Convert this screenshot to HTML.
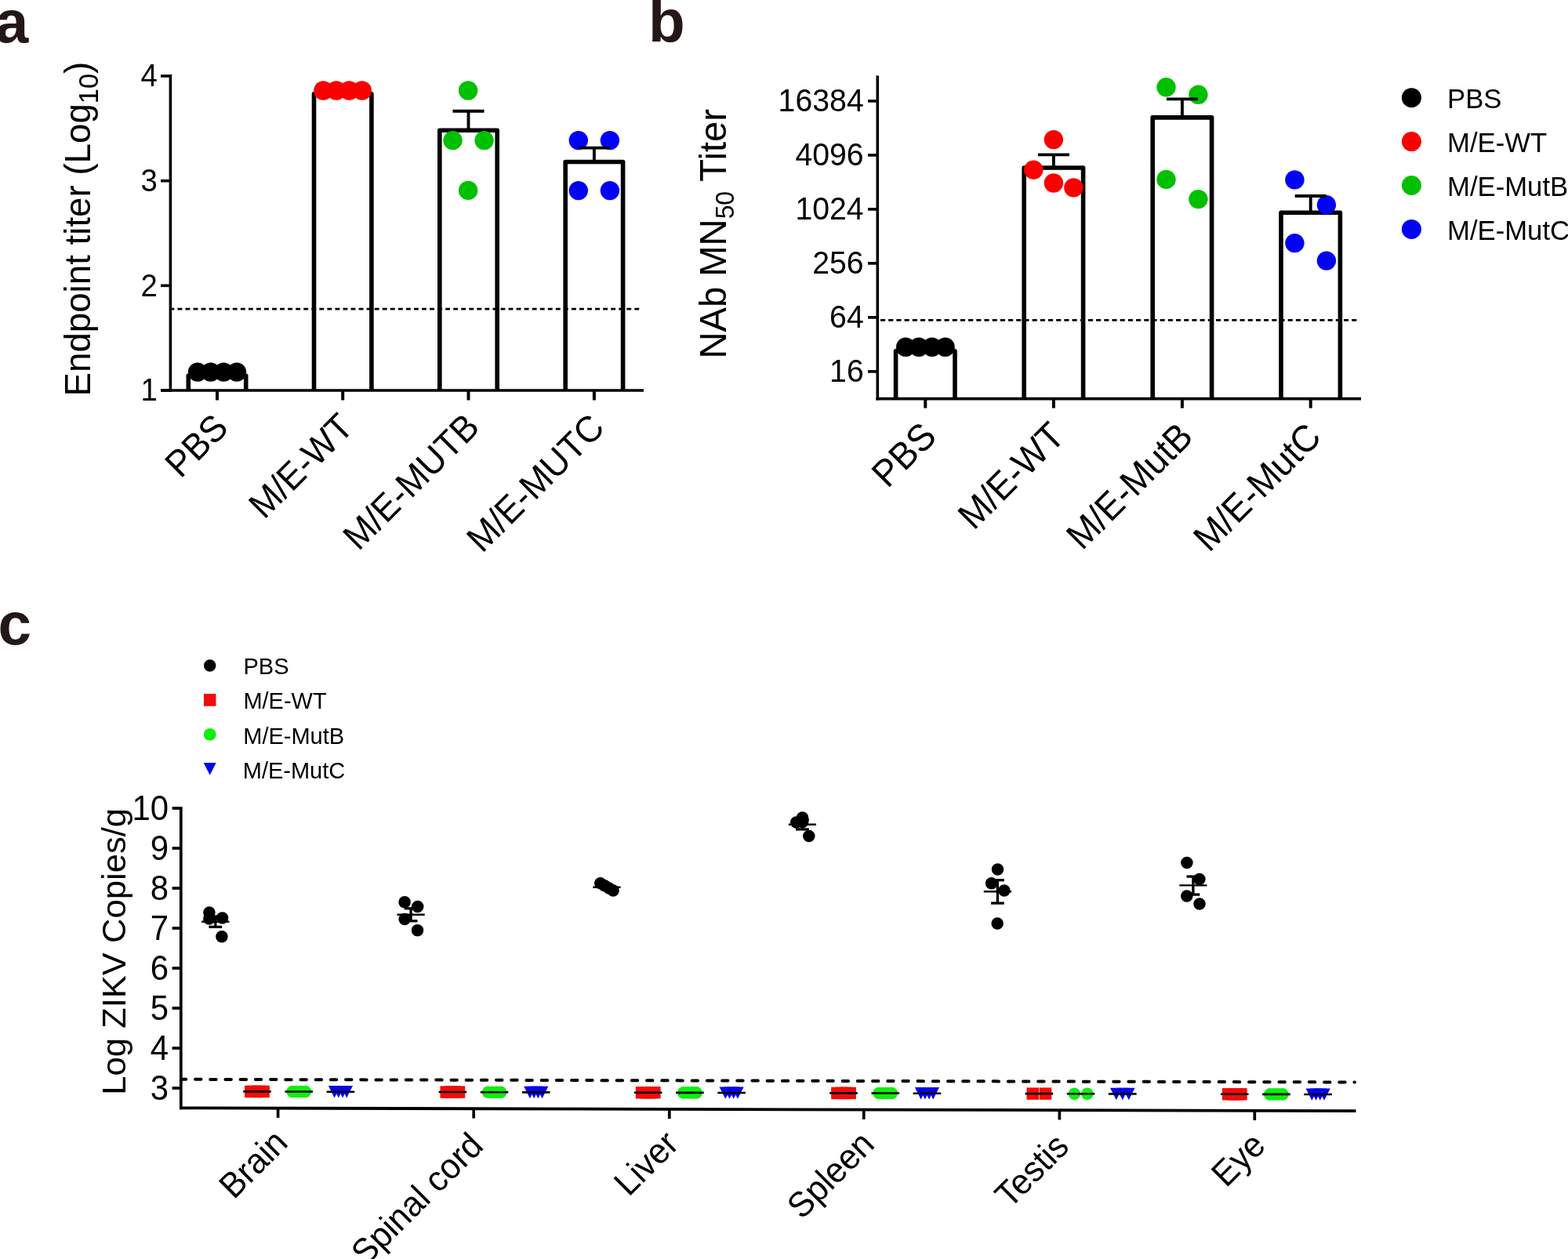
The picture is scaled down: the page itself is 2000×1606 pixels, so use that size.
<!DOCTYPE html>
<html><head><meta charset="utf-8"><title>Figure</title>
<style>
html,body{margin:0;padding:0;background:#fff;}
body{width:2000px;height:1606px;overflow:hidden;}
svg{display:block;}
text{font-family:"Liberation Sans", Arial, Helvetica, sans-serif;}
</style></head>
<body>
<svg width="2000" height="1606" viewBox="0 0 2000 1606">
<rect x="0" y="0" width="2000" height="1606" fill="#fff"/>
<text transform="translate(-6.3,54.4)" font-size="76.5" text-anchor="start" font-weight="bold" fill="#231815">a</text>
<text transform="translate(827.1,53.2)" font-size="76.5" text-anchor="start" font-weight="bold" fill="#231815">b</text>
<text transform="translate(-2.5,822)" font-size="76.5" text-anchor="start" font-weight="bold" fill="#231815">c</text>
<line x1="217.4" y1="95" x2="217.4" y2="499.8" stroke="#000" stroke-width="3.6" />
<line x1="205" y1="498" x2="821" y2="498" stroke="#000" stroke-width="3.6" />
<line x1="205" y1="498" x2="217.4" y2="498" stroke="#000" stroke-width="3.6" />
<text transform="translate(200.75,511.26) scale(1,1.065)" font-size="38.4" text-anchor="end" font-weight="normal" fill="#000">1</text>
<line x1="205" y1="364.33" x2="217.4" y2="364.33" stroke="#000" stroke-width="3.6" />
<text transform="translate(200.75,377.59) scale(1,1.065)" font-size="38.4" text-anchor="end" font-weight="normal" fill="#000">2</text>
<line x1="205" y1="230.66" x2="217.4" y2="230.66" stroke="#000" stroke-width="3.6" />
<text transform="translate(200.75,243.92) scale(1,1.065)" font-size="38.4" text-anchor="end" font-weight="normal" fill="#000">3</text>
<line x1="205" y1="96.99" x2="217.4" y2="96.99" stroke="#000" stroke-width="3.6" />
<text transform="translate(200.75,110.25) scale(1,1.065)" font-size="38.4" text-anchor="end" font-weight="normal" fill="#000">4</text>
<line x1="219.2" y1="394.1" x2="816" y2="394.1" stroke="#000" stroke-width="2.7" stroke-dasharray="5.9 4.15" stroke-dashoffset="2.8"/>
<path d="M240.3 498 V479.2 H313.7 V498" fill="none" stroke="#000" stroke-width="5.6" stroke-linejoin="round"/>
<path d="M400.5 498 V119.7 H473.9 V498" fill="none" stroke="#000" stroke-width="5.6" stroke-linejoin="round"/>
<path d="M560.8 498 V166.2 H634.2 V498" fill="none" stroke="#000" stroke-width="5.6" stroke-linejoin="round"/>
<path d="M721.2 498 V206.5 H794.6 V498" fill="none" stroke="#000" stroke-width="5.6" stroke-linejoin="round"/>
<circle cx="252" cy="474.6" r="12.2" fill="#000"/>
<circle cx="268.7" cy="474.6" r="12.2" fill="#000"/>
<circle cx="285.3" cy="474.6" r="12.2" fill="#000"/>
<circle cx="302" cy="474.6" r="12.2" fill="#000"/>
<circle cx="412.4" cy="115.5" r="12.2" fill="#fb0000"/>
<circle cx="429" cy="115.5" r="12.2" fill="#fb0000"/>
<circle cx="445.4" cy="115.5" r="12.2" fill="#fb0000"/>
<circle cx="461.8" cy="115.5" r="12.2" fill="#fb0000"/>
<circle cx="597.1" cy="115.5" r="12.2" fill="#00c000"/>
<circle cx="577.5" cy="179.1" r="12.2" fill="#00c000"/>
<circle cx="617.6" cy="179.1" r="12.2" fill="#00c000"/>
<circle cx="597.1" cy="242.9" r="12.2" fill="#00c000"/>
<circle cx="737.8" cy="179.1" r="12.2" fill="#0202f6"/>
<circle cx="777.9" cy="179.1" r="12.2" fill="#0202f6"/>
<circle cx="737.8" cy="243.1" r="12.2" fill="#0202f6"/>
<circle cx="777.9" cy="243.1" r="12.2" fill="#0202f6"/>
<line x1="277" y1="498" x2="277" y2="510.5" stroke="#000" stroke-width="4" />
<line x1="437.2" y1="498" x2="437.2" y2="510.5" stroke="#000" stroke-width="4" />
<line x1="597.5" y1="166.2" x2="597.5" y2="141.8" stroke="#000" stroke-width="3.9" />
<line x1="577.5" y1="141.8" x2="617.5" y2="141.8" stroke="#000" stroke-width="3.9" />
<line x1="597.5" y1="498" x2="597.5" y2="510.5" stroke="#000" stroke-width="4" />
<line x1="757.9" y1="206.5" x2="757.9" y2="188.6" stroke="#000" stroke-width="3.9" />
<line x1="737.9" y1="188.6" x2="777.9" y2="188.6" stroke="#000" stroke-width="3.9" />
<line x1="757.9" y1="498" x2="757.9" y2="510.5" stroke="#000" stroke-width="4" />
<text transform="translate(114.7,505.5) rotate(-90) scale(1,1.015)" font-size="45.7" text-anchor="start" font-weight="normal" fill="#000">Endpoint titer (Log<tspan font-size="75%" dy="0.294em">10</tspan><tspan dy="-0.2205em">)</tspan></text>
<text transform="translate(293.5,548) rotate(-45) scale(1,1.050)" font-size="44.8" text-anchor="end" font-weight="normal" fill="#000">PBS</text>
<text transform="translate(453.2,547.5) rotate(-45) scale(1,1.050)" font-size="44.8" text-anchor="end" font-weight="normal" fill="#000">M/E-WT</text>
<text transform="translate(613.9,547.3) rotate(-45) scale(1,1.050)" font-size="44.8" text-anchor="end" font-weight="normal" fill="#000">M/E-MUTB</text>
<text transform="translate(773.4,548.1) rotate(-45) scale(1,1.050)" font-size="44.8" text-anchor="end" font-weight="normal" fill="#000">M/E-MUTC</text>
<line x1="1119.3" y1="96.4" x2="1119.3" y2="510.4" stroke="#000" stroke-width="3.6" />
<line x1="1117.5" y1="508.6" x2="1736" y2="508.6" stroke="#000" stroke-width="3.6" />
<line x1="1107" y1="473.9" x2="1119.3" y2="473.9" stroke="#000" stroke-width="3.6" />
<text transform="translate(1101.7,486.9) scale(1,1.060)" font-size="39.24" text-anchor="end" font-weight="normal" fill="#000">16</text>
<line x1="1107" y1="404.9" x2="1119.3" y2="404.9" stroke="#000" stroke-width="3.6" />
<text transform="translate(1101.7,417.9) scale(1,1.060)" font-size="39.24" text-anchor="end" font-weight="normal" fill="#000">64</text>
<line x1="1107" y1="335.9" x2="1119.3" y2="335.9" stroke="#000" stroke-width="3.6" />
<text transform="translate(1101.7,348.9) scale(1,1.060)" font-size="39.24" text-anchor="end" font-weight="normal" fill="#000">256</text>
<line x1="1107" y1="266.9" x2="1119.3" y2="266.9" stroke="#000" stroke-width="3.6" />
<text transform="translate(1101.7,279.9) scale(1,1.060)" font-size="39.24" text-anchor="end" font-weight="normal" fill="#000">1024</text>
<line x1="1107" y1="197.9" x2="1119.3" y2="197.9" stroke="#000" stroke-width="3.6" />
<text transform="translate(1101.7,210.9) scale(1,1.060)" font-size="39.24" text-anchor="end" font-weight="normal" fill="#000">4096</text>
<line x1="1107" y1="128.9" x2="1119.3" y2="128.9" stroke="#000" stroke-width="3.6" />
<text transform="translate(1101.7,141.9) scale(1,1.060)" font-size="39.24" text-anchor="end" font-weight="normal" fill="#000">16384</text>
<line x1="1121.1" y1="408.4" x2="1731" y2="408.4" stroke="#000" stroke-width="2.7" stroke-dasharray="6.1 4.09" stroke-dashoffset="-1.9"/>
<path d="M1142.6 508.6 V447.7 H1218 V508.6" fill="none" stroke="#000" stroke-width="5.6" stroke-linejoin="round"/>
<path d="M1306.2 508.6 V214 H1381.6 V508.6" fill="none" stroke="#000" stroke-width="5.6" stroke-linejoin="round"/>
<path d="M1470.2 508.6 V149.9 H1545.6 V508.6" fill="none" stroke="#000" stroke-width="5.6" stroke-linejoin="round"/>
<path d="M1634 508.6 V271.3 H1709.4 V508.6" fill="none" stroke="#000" stroke-width="5.6" stroke-linejoin="round"/>
<circle cx="1155.2" cy="442.75" r="12.2" fill="#000"/>
<circle cx="1172" cy="442.75" r="12.2" fill="#000"/>
<circle cx="1188.8" cy="442.75" r="12.2" fill="#000"/>
<circle cx="1205.6" cy="442.75" r="12.2" fill="#000"/>
<circle cx="1343.9" cy="178.1" r="12.2" fill="#fb0000"/>
<circle cx="1318.3" cy="216.7" r="12.2" fill="#fb0000"/>
<circle cx="1343.9" cy="233.5" r="12.2" fill="#fb0000"/>
<circle cx="1369.4" cy="239.4" r="12.2" fill="#fb0000"/>
<circle cx="1487.5" cy="111.3" r="12.2" fill="#00c000"/>
<circle cx="1528.4" cy="120.8" r="12.2" fill="#00c000"/>
<circle cx="1487.5" cy="228.9" r="12.2" fill="#00c000"/>
<circle cx="1528.4" cy="254.1" r="12.2" fill="#00c000"/>
<circle cx="1651.4" cy="229.4" r="12.2" fill="#0202f6"/>
<circle cx="1691.9" cy="261.3" r="12.2" fill="#0202f6"/>
<circle cx="1651.4" cy="310.1" r="12.2" fill="#0202f6"/>
<circle cx="1691.9" cy="332.6" r="12.2" fill="#0202f6"/>
<line x1="1180.3" y1="508.6" x2="1180.3" y2="520.6" stroke="#000" stroke-width="4" />
<line x1="1343.9" y1="214" x2="1343.9" y2="197.4" stroke="#000" stroke-width="3.9" />
<line x1="1323.9" y1="197.4" x2="1363.9" y2="197.4" stroke="#000" stroke-width="3.9" />
<line x1="1343.9" y1="508.6" x2="1343.9" y2="520.6" stroke="#000" stroke-width="4" />
<line x1="1507.9" y1="149.9" x2="1507.9" y2="126.4" stroke="#000" stroke-width="3.9" />
<line x1="1487.9" y1="126.4" x2="1527.9" y2="126.4" stroke="#000" stroke-width="3.9" />
<line x1="1507.9" y1="508.6" x2="1507.9" y2="520.6" stroke="#000" stroke-width="4" />
<line x1="1671.7" y1="271.3" x2="1671.7" y2="250" stroke="#000" stroke-width="3.9" />
<line x1="1651.7" y1="250" x2="1691.7" y2="250" stroke="#000" stroke-width="3.9" />
<line x1="1671.7" y1="508.6" x2="1671.7" y2="520.6" stroke="#000" stroke-width="4" />
<text transform="translate(926,457.6) rotate(-90) scale(1,1.014)" font-size="47.17" text-anchor="start" font-weight="normal" fill="#000">NAb MN<tspan font-size="67.6%" dy="0.313em">50</tspan><tspan dy="-0.2116em"> Titer</tspan></text>
<text transform="translate(1196.7,559.3) rotate(-45) scale(1,1.050)" font-size="45.75" text-anchor="end" font-weight="normal" fill="#000">PBS</text>
<text transform="translate(1360.5,558.9) rotate(-45) scale(1,1.050)" font-size="45.75" text-anchor="end" font-weight="normal" fill="#000">M/E-WT</text>
<text transform="translate(1524.1,559.6) rotate(-45) scale(1,1.050)" font-size="45.75" text-anchor="end" font-weight="normal" fill="#000">M/E-MutB</text>
<text transform="translate(1687.7,560.1) rotate(-45) scale(1,1.050)" font-size="45.75" text-anchor="end" font-weight="normal" fill="#000">M/E-MutC</text>
<circle cx="1800.4" cy="124.7" r="12.5" fill="#000"/>
<text transform="translate(1846,138.1) scale(1,1.025)" font-size="34.7" text-anchor="start" font-weight="normal" fill="#000">PBS</text>
<circle cx="1800.4" cy="180.6" r="12.5" fill="#fb0000"/>
<text transform="translate(1846,194) scale(1,1.025)" font-size="34.7" text-anchor="start" font-weight="normal" fill="#000">M/E-WT</text>
<circle cx="1800.4" cy="236.5" r="12.5" fill="#00c000"/>
<text transform="translate(1846,249.9) scale(1,1.025)" font-size="34.7" text-anchor="start" font-weight="normal" fill="#000">M/E-MutB</text>
<circle cx="1800.4" cy="292.4" r="12.5" fill="#0202f6"/>
<text transform="translate(1846,305.8) scale(1,1.025)" font-size="34.7" text-anchor="start" font-weight="normal" fill="#000">M/E-MutC</text>
<circle cx="267.7" cy="849" r="7.75" fill="#000"/>
<rect x="259.95" y="885.1" width="15.5" height="15.6" fill="#f50a0a"/>
<circle cx="267.7" cy="936.9" r="7.9" fill="#0cf00c"/>
<path d="M259.7 972.9 H275.7 L267.7 988.7 Z" fill="#0505ea"/>
<text transform="translate(310.5,859.6) scale(1,1.010)" font-size="29" text-anchor="start" font-weight="normal" fill="#000">PBS</text>
<text transform="translate(310.4,904.1) scale(1,1.010)" font-size="29" text-anchor="start" font-weight="normal" fill="#000">M/E-WT</text>
<text transform="translate(310.3,948.8) scale(1,1.010)" font-size="29" text-anchor="start" font-weight="normal" fill="#000">M/E-MutB</text>
<text transform="translate(309.8,992.5) scale(1,1.010)" font-size="29" text-anchor="start" font-weight="normal" fill="#000">M/E-MutC</text>
<line x1="230.8" y1="1029.3" x2="230.8" y2="1415.2" stroke="#000" stroke-width="3.7" />
<line x1="229" y1="1413.3" x2="1729.5" y2="1417.1" stroke="#000" stroke-width="3.8" />
<line x1="219.6" y1="1388" x2="230.8" y2="1388" stroke="#000" stroke-width="3.7" />
<text transform="translate(215,1402.86) scale(1,1.050)" font-size="41.9" text-anchor="end" font-weight="normal" fill="#000">3</text>
<line x1="219.6" y1="1337" x2="230.8" y2="1337" stroke="#000" stroke-width="3.7" />
<text transform="translate(215,1351.86) scale(1,1.050)" font-size="41.9" text-anchor="end" font-weight="normal" fill="#000">4</text>
<line x1="219.6" y1="1286" x2="230.8" y2="1286" stroke="#000" stroke-width="3.7" />
<text transform="translate(215,1300.86) scale(1,1.050)" font-size="41.9" text-anchor="end" font-weight="normal" fill="#000">5</text>
<line x1="219.6" y1="1235" x2="230.8" y2="1235" stroke="#000" stroke-width="3.7" />
<text transform="translate(215,1249.86) scale(1,1.050)" font-size="41.9" text-anchor="end" font-weight="normal" fill="#000">6</text>
<line x1="219.6" y1="1184" x2="230.8" y2="1184" stroke="#000" stroke-width="3.7" />
<text transform="translate(215,1198.86) scale(1,1.050)" font-size="41.9" text-anchor="end" font-weight="normal" fill="#000">7</text>
<line x1="219.6" y1="1133" x2="230.8" y2="1133" stroke="#000" stroke-width="3.7" />
<text transform="translate(215,1147.86) scale(1,1.050)" font-size="41.9" text-anchor="end" font-weight="normal" fill="#000">8</text>
<line x1="219.6" y1="1082" x2="230.8" y2="1082" stroke="#000" stroke-width="3.7" />
<text transform="translate(215,1096.86) scale(1,1.050)" font-size="41.9" text-anchor="end" font-weight="normal" fill="#000">9</text>
<line x1="219.6" y1="1031" x2="230.8" y2="1031" stroke="#000" stroke-width="3.7" />
<text transform="translate(215,1045.86) scale(1,1.050)" font-size="41.9" text-anchor="end" font-weight="normal" fill="#000">10</text>
<line x1="354.6" y1="1413.62" x2="354.6" y2="1425.92" stroke="#000" stroke-width="3.7" />
<line x1="604.2" y1="1414.25" x2="604.2" y2="1426.55" stroke="#000" stroke-width="3.7" />
<line x1="853.8" y1="1414.88" x2="853.8" y2="1427.18" stroke="#000" stroke-width="3.7" />
<line x1="1101.8" y1="1415.51" x2="1101.8" y2="1427.81" stroke="#000" stroke-width="3.7" />
<line x1="1351.4" y1="1416.14" x2="1351.4" y2="1428.44" stroke="#000" stroke-width="3.7" />
<line x1="1600.3" y1="1416.77" x2="1600.3" y2="1429.07" stroke="#000" stroke-width="3.7" />
<line x1="231" y1="1376.8" x2="1728" y2="1380.5" stroke="#000" stroke-width="4" stroke-dasharray="7.4 11.8" stroke-dashoffset="1.15" stroke-linecap="round"/>
<text transform="translate(159.8,1396.8) rotate(-90) scale(1,0.980)" font-size="43.6" text-anchor="start" font-weight="normal" fill="#000">Log ZIKV Copies/g</text>
<circle cx="266.9" cy="1164" r="7.75" fill="#000"/>
<circle cx="266.8" cy="1171.9" r="7.75" fill="#000"/>
<circle cx="283.6" cy="1171.1" r="7.75" fill="#000"/>
<circle cx="282.9" cy="1194.7" r="7.75" fill="#000"/>
<line x1="257.2" y1="1175.7" x2="292.4" y2="1175.7" stroke="#000" stroke-width="2.4" />
<line x1="274.8" y1="1169" x2="274.8" y2="1182.4" stroke="#000" stroke-width="3.3" />
<line x1="266.4" y1="1182.4" x2="283.2" y2="1182.4" stroke="#000" stroke-width="3.3" />
<line x1="266.4" y1="1169" x2="283.2" y2="1169" stroke="#000" stroke-width="3.3" />
<circle cx="516.1" cy="1150.8" r="7.75" fill="#000"/>
<circle cx="532.7" cy="1156.6" r="7.75" fill="#000"/>
<circle cx="516.2" cy="1172.4" r="7.75" fill="#000"/>
<circle cx="532.5" cy="1186.7" r="7.75" fill="#000"/>
<line x1="506.5" y1="1166.8" x2="541.7" y2="1166.8" stroke="#000" stroke-width="2.4" />
<line x1="524.1" y1="1158.8" x2="524.1" y2="1174.8" stroke="#000" stroke-width="3.3" />
<line x1="515.7" y1="1174.8" x2="532.5" y2="1174.8" stroke="#000" stroke-width="3.3" />
<line x1="515.7" y1="1158.8" x2="532.5" y2="1158.8" stroke="#000" stroke-width="3.3" />
<circle cx="765.8" cy="1126.7" r="7.75" fill="#000"/>
<circle cx="771.2" cy="1129.8" r="7.75" fill="#000"/>
<circle cx="776.8" cy="1133" r="7.75" fill="#000"/>
<circle cx="782.1" cy="1135.9" r="7.75" fill="#000"/>
<line x1="756.4" y1="1131.8" x2="791.6" y2="1131.8" stroke="#000" stroke-width="2.4" />
<circle cx="1015.7" cy="1048.9" r="7.75" fill="#000"/>
<circle cx="1023.5" cy="1043" r="7.75" fill="#000"/>
<circle cx="1023.7" cy="1048.4" r="7.75" fill="#000"/>
<circle cx="1031.8" cy="1066.5" r="7.75" fill="#000"/>
<line x1="1005.8" y1="1051.7" x2="1041" y2="1051.7" stroke="#000" stroke-width="2.4" />
<line x1="1023.4" y1="1045.5" x2="1023.4" y2="1057.9" stroke="#000" stroke-width="3.3" />
<line x1="1015" y1="1057.9" x2="1031.8" y2="1057.9" stroke="#000" stroke-width="3.3" />
<line x1="1015" y1="1045.5" x2="1031.8" y2="1045.5" stroke="#000" stroke-width="3.3" />
<circle cx="1272.5" cy="1109" r="7.75" fill="#000"/>
<circle cx="1264.6" cy="1126.7" r="7.75" fill="#000"/>
<circle cx="1280.9" cy="1136.1" r="7.75" fill="#000"/>
<circle cx="1272.2" cy="1178.1" r="7.75" fill="#000"/>
<line x1="1254.8" y1="1137.3" x2="1290" y2="1137.3" stroke="#000" stroke-width="2.4" />
<line x1="1272.4" y1="1122.7" x2="1272.4" y2="1152.1" stroke="#000" stroke-width="3.3" />
<line x1="1264" y1="1152.1" x2="1280.8" y2="1152.1" stroke="#000" stroke-width="3.3" />
<line x1="1264" y1="1122.7" x2="1280.8" y2="1122.7" stroke="#000" stroke-width="3.3" />
<circle cx="1513.9" cy="1100.5" r="7.75" fill="#000"/>
<circle cx="1529.9" cy="1121.6" r="7.75" fill="#000"/>
<circle cx="1513.8" cy="1142.9" r="7.75" fill="#000"/>
<circle cx="1530" cy="1153" r="7.75" fill="#000"/>
<line x1="1504.3" y1="1129.4" x2="1539.5" y2="1129.4" stroke="#000" stroke-width="2.4" />
<line x1="1521.9" y1="1118.1" x2="1521.9" y2="1141.1" stroke="#000" stroke-width="3.3" />
<line x1="1513.5" y1="1141.1" x2="1530.3" y2="1141.1" stroke="#000" stroke-width="3.3" />
<line x1="1513.5" y1="1118.1" x2="1530.3" y2="1118.1" stroke="#000" stroke-width="3.3" />
<rect x="312.1" y="1384.7" width="15.6" height="15.4" fill="#f50a0a"/>
<rect x="317.5" y="1384.7" width="15.6" height="15.4" fill="#f50a0a"/>
<rect x="322.9" y="1384.7" width="15.6" height="15.4" fill="#f50a0a"/>
<rect x="328.3" y="1384.7" width="15.6" height="15.4" fill="#f50a0a"/>
<line x1="310.2" y1="1392.4" x2="345.8" y2="1392.4" stroke="#000" stroke-width="2.6" />
<circle cx="373.1" cy="1392.54" r="7.8" fill="#0cf00c"/>
<circle cx="378.5" cy="1392.54" r="7.8" fill="#0cf00c"/>
<circle cx="383.9" cy="1392.54" r="7.8" fill="#0cf00c"/>
<circle cx="389.3" cy="1392.54" r="7.8" fill="#0cf00c"/>
<line x1="363.4" y1="1392.54" x2="399" y2="1392.54" stroke="#000" stroke-width="2.6" />
<path d="M418.8 1385.09 H434.4 L426.6 1400.49 Z" fill="#0505ea"/>
<path d="M424 1385.09 H439.6 L431.8 1400.49 Z" fill="#0505ea"/>
<path d="M429.2 1385.09 H444.8 L437 1400.49 Z" fill="#0505ea"/>
<path d="M434.4 1385.09 H450 L442.2 1400.49 Z" fill="#0505ea"/>
<line x1="416.6" y1="1392.69" x2="452.2" y2="1392.69" stroke="#000" stroke-width="2.6" />
<rect x="561.45" y="1385.37" width="15.6" height="15.4" fill="#f50a0a"/>
<rect x="566.85" y="1385.37" width="15.6" height="15.4" fill="#f50a0a"/>
<rect x="572.25" y="1385.37" width="15.6" height="15.4" fill="#f50a0a"/>
<rect x="577.65" y="1385.37" width="15.6" height="15.4" fill="#f50a0a"/>
<line x1="559.55" y1="1393.07" x2="595.15" y2="1393.07" stroke="#000" stroke-width="2.6" />
<circle cx="622.45" cy="1393.22" r="7.8" fill="#0cf00c"/>
<circle cx="627.85" cy="1393.22" r="7.8" fill="#0cf00c"/>
<circle cx="633.25" cy="1393.22" r="7.8" fill="#0cf00c"/>
<circle cx="638.65" cy="1393.22" r="7.8" fill="#0cf00c"/>
<line x1="612.75" y1="1393.22" x2="648.35" y2="1393.22" stroke="#000" stroke-width="2.6" />
<path d="M668.15 1385.76 H683.75 L675.95 1401.16 Z" fill="#0505ea"/>
<path d="M673.35 1385.76 H688.95 L681.15 1401.16 Z" fill="#0505ea"/>
<path d="M678.55 1385.76 H694.15 L686.35 1401.16 Z" fill="#0505ea"/>
<path d="M683.75 1385.76 H699.35 L691.55 1401.16 Z" fill="#0505ea"/>
<line x1="665.95" y1="1393.36" x2="701.55" y2="1393.36" stroke="#000" stroke-width="2.6" />
<rect x="810.8" y="1386.05" width="15.6" height="15.4" fill="#f50a0a"/>
<rect x="816.2" y="1386.05" width="15.6" height="15.4" fill="#f50a0a"/>
<rect x="821.6" y="1386.05" width="15.6" height="15.4" fill="#f50a0a"/>
<rect x="827" y="1386.05" width="15.6" height="15.4" fill="#f50a0a"/>
<line x1="808.9" y1="1393.75" x2="844.5" y2="1393.75" stroke="#000" stroke-width="2.6" />
<circle cx="871.8" cy="1393.89" r="7.8" fill="#0cf00c"/>
<circle cx="877.2" cy="1393.89" r="7.8" fill="#0cf00c"/>
<circle cx="882.6" cy="1393.89" r="7.8" fill="#0cf00c"/>
<circle cx="888" cy="1393.89" r="7.8" fill="#0cf00c"/>
<line x1="862.1" y1="1393.89" x2="897.7" y2="1393.89" stroke="#000" stroke-width="2.6" />
<path d="M917.5 1386.43 H933.1 L925.3 1401.83 Z" fill="#0505ea"/>
<path d="M922.7 1386.43 H938.3 L930.5 1401.83 Z" fill="#0505ea"/>
<path d="M927.9 1386.43 H943.5 L935.7 1401.83 Z" fill="#0505ea"/>
<path d="M933.1 1386.43 H948.7 L940.9 1401.83 Z" fill="#0505ea"/>
<line x1="915.3" y1="1394.03" x2="950.9" y2="1394.03" stroke="#000" stroke-width="2.6" />
<rect x="1060.15" y="1386.72" width="15.6" height="15.4" fill="#f50a0a"/>
<rect x="1065.55" y="1386.72" width="15.6" height="15.4" fill="#f50a0a"/>
<rect x="1070.95" y="1386.72" width="15.6" height="15.4" fill="#f50a0a"/>
<rect x="1076.35" y="1386.72" width="15.6" height="15.4" fill="#f50a0a"/>
<line x1="1058.25" y1="1394.42" x2="1093.85" y2="1394.42" stroke="#000" stroke-width="2.6" />
<circle cx="1121.15" cy="1394.56" r="7.8" fill="#0cf00c"/>
<circle cx="1126.55" cy="1394.56" r="7.8" fill="#0cf00c"/>
<circle cx="1131.95" cy="1394.56" r="7.8" fill="#0cf00c"/>
<circle cx="1137.35" cy="1394.56" r="7.8" fill="#0cf00c"/>
<line x1="1111.45" y1="1394.56" x2="1147.05" y2="1394.56" stroke="#000" stroke-width="2.6" />
<path d="M1166.85 1387.11 H1182.45 L1174.65 1402.51 Z" fill="#0505ea"/>
<path d="M1172.05 1387.11 H1187.65 L1179.85 1402.51 Z" fill="#0505ea"/>
<path d="M1177.25 1387.11 H1192.85 L1185.05 1402.51 Z" fill="#0505ea"/>
<path d="M1182.45 1387.11 H1198.05 L1190.25 1402.51 Z" fill="#0505ea"/>
<line x1="1164.65" y1="1394.71" x2="1200.25" y2="1394.71" stroke="#000" stroke-width="2.6" />
<rect x="1309.5" y="1387.39" width="15.6" height="15.4" fill="#f50a0a"/>
<rect x="1325.7" y="1387.39" width="15.6" height="15.4" fill="#f50a0a"/>
<line x1="1307.6" y1="1395.09" x2="1343.2" y2="1395.09" stroke="#000" stroke-width="2.6" />
<circle cx="1370.4" cy="1395.24" r="7.8" fill="#0cf00c"/>
<circle cx="1386.8" cy="1395.24" r="7.8" fill="#0cf00c"/>
<line x1="1360.8" y1="1395.24" x2="1396.4" y2="1395.24" stroke="#000" stroke-width="2.6" />
<path d="M1416 1387.78 H1431.6 L1423.8 1403.18 Z" fill="#0505ea"/>
<path d="M1424 1387.78 H1439.6 L1431.8 1403.18 Z" fill="#0505ea"/>
<path d="M1432 1387.78 H1447.6 L1439.8 1403.18 Z" fill="#0505ea"/>
<line x1="1414" y1="1395.38" x2="1449.6" y2="1395.38" stroke="#000" stroke-width="2.6" />
<rect x="1558.85" y="1388.07" width="15.6" height="15.4" fill="#f50a0a"/>
<rect x="1564.25" y="1388.07" width="15.6" height="15.4" fill="#f50a0a"/>
<rect x="1569.65" y="1388.07" width="15.6" height="15.4" fill="#f50a0a"/>
<rect x="1575.05" y="1388.07" width="15.6" height="15.4" fill="#f50a0a"/>
<line x1="1556.95" y1="1395.77" x2="1592.55" y2="1395.77" stroke="#000" stroke-width="2.6" />
<circle cx="1619.85" cy="1395.91" r="7.8" fill="#0cf00c"/>
<circle cx="1625.25" cy="1395.91" r="7.8" fill="#0cf00c"/>
<circle cx="1630.65" cy="1395.91" r="7.8" fill="#0cf00c"/>
<circle cx="1636.05" cy="1395.91" r="7.8" fill="#0cf00c"/>
<line x1="1610.15" y1="1395.91" x2="1645.75" y2="1395.91" stroke="#000" stroke-width="2.6" />
<path d="M1665.55 1388.45 H1681.15 L1673.35 1403.85 Z" fill="#0505ea"/>
<path d="M1670.75 1388.45 H1686.35 L1678.55 1403.85 Z" fill="#0505ea"/>
<path d="M1675.95 1388.45 H1691.55 L1683.75 1403.85 Z" fill="#0505ea"/>
<path d="M1681.15 1388.45 H1696.75 L1688.95 1403.85 Z" fill="#0505ea"/>
<line x1="1663.35" y1="1396.05" x2="1698.95" y2="1396.05" stroke="#000" stroke-width="2.6" />
<text transform="translate(369.1,1460) rotate(-45) scale(1,1.050)" font-size="43" text-anchor="end" font-weight="normal" fill="#000">Brain</text>
<text transform="translate(618.74,1464) rotate(-45) scale(1,1.050)" font-size="43" text-anchor="end" font-weight="normal" fill="#000">Spinal cord</text>
<text transform="translate(867.88,1461.5) rotate(-45) scale(1,1.050)" font-size="43" text-anchor="end" font-weight="normal" fill="#000">Liver</text>
<text transform="translate(1117.52,1462) rotate(-45) scale(1,1.050)" font-size="43" text-anchor="end" font-weight="normal" fill="#000">Spleen</text>
<text transform="translate(1365.66,1465) rotate(-45) scale(1,1.050)" font-size="43" text-anchor="end" font-weight="normal" fill="#000">Testis</text>
<text transform="translate(1616.3,1463.5) rotate(-45) scale(1,1.050)" font-size="43" text-anchor="end" font-weight="normal" fill="#000">Eye</text>
</svg>
</body></html>
